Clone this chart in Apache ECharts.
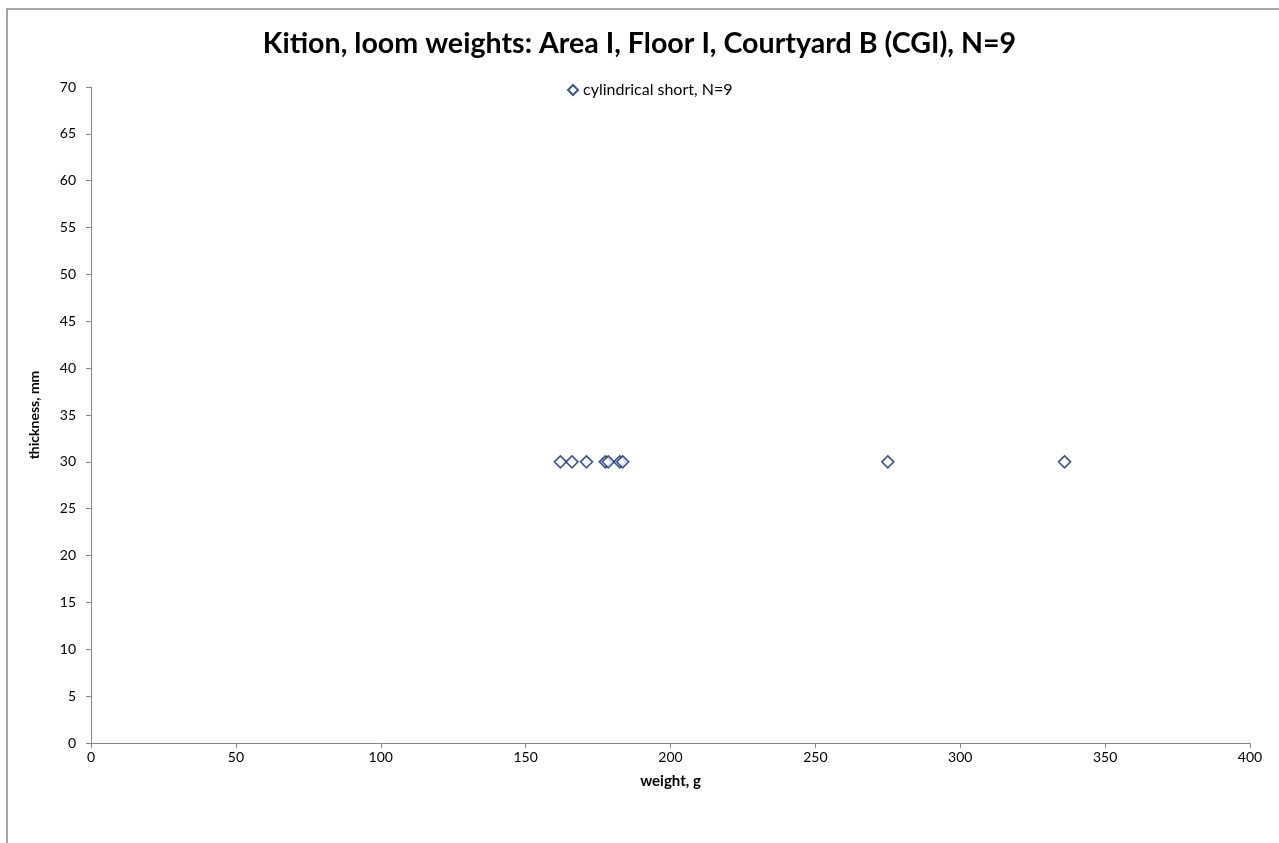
<!DOCTYPE html>
<html>
<head>
<meta charset="utf-8">
<script src="https://cdn.jsdelivr.net/npm/echarts@6/dist/echarts.min.js"></script>
<style>
  html, body { margin: 0; padding: 0; background: #fff; }
  #chart { width: 1279px; height: 843px; }
</style>
</head>
<body>
<div id="chart"></div>
<script>
// weights (g) and thickness (mm) of the loom weights
const weights = [162, 166, 171, 177.5, 178.5, 182.5, 183.5, 275, 336];
const thickness = [30, 30, 30, 30, 30, 30, 30, 30, 30];
const seriesName = 'cylindrical short, N=9';

const points = weights.map((w, i) => [w, thickness[i]]);

const chart = echarts.init(document.getElementById('chart'));

const axisLine = { show: true, lineStyle: { color: '#868686', width: 1 } };
const labelFont = { color: '#000', fontSize: 14, fontFamily: 'Lato' };

const option = {
    animation: false,
    backgroundColor: '#fff',
    title: {
        text: 'Kition, loom weights: Area I, Floor I, Courtyard B (CGI), N=9',
        left: 'center',
        top: 24,
        textStyle: { fontFamily: 'Lato', fontWeight: 'bold', fontSize: 28.6, color: '#000' }
    },
    legend: {
        top: 77,
        left: 562,
        itemWidth: 10,
        itemHeight: 10,
        itemGap: 4,
        textStyle: { fontFamily: 'Lato', fontSize: 16, color: '#000' },
        data: [{ name: seriesName, icon: 'diamond' }]
    },
    grid: { left: 91, right: 29, top: 87, bottom: 100 },
    xAxis: {
        type: 'value',
        min: 0, max: 400, interval: 50,
        name: 'weight, g',
        nameLocation: 'middle',
        nameGap: 31,
        nameTextStyle: { fontFamily: 'Lato', fontWeight: 'bold', fontSize: 15, color: '#000' },
        axisLine: axisLine,
        axisTick: { show: true, inside: false, length: 5, lineStyle: { color: '#868686' } },
        axisLabel: Object.assign({ margin: 7 }, labelFont),
        splitLine: { show: false }
    },
    yAxis: {
        type: 'value',
        min: 0, max: 70, interval: 5,
        name: 'thickness, mm',
        nameLocation: 'middle',
        nameGap: 50,
        nameTextStyle: { fontFamily: 'Lato', fontWeight: 'bold', fontSize: 14, color: '#000' },
        axisLine: axisLine,
        axisTick: { show: true, inside: false, length: 5, lineStyle: { color: '#868686' } },
        axisLabel: Object.assign({ margin: 15 }, labelFont),
        splitLine: { show: false }
    },
    series: [{
        name: seriesName,
        type: 'scatter',
        symbol: 'diamond',
        symbolSize: 12,
        data: points,
        itemStyle: { color: '#fff', borderColor: '#0F2A6B', borderWidth: 1.6 }
    }],
    graphic: [{
        type: 'rect',
        shape: { x: 7, y: 9, width: 1400, height: 1000 },
        style: { fill: null, stroke: '#8a8a8a', lineWidth: 1.5 },
        silent: true
    }]
};

chart.setOption(option);
</script>
</body>
</html>
